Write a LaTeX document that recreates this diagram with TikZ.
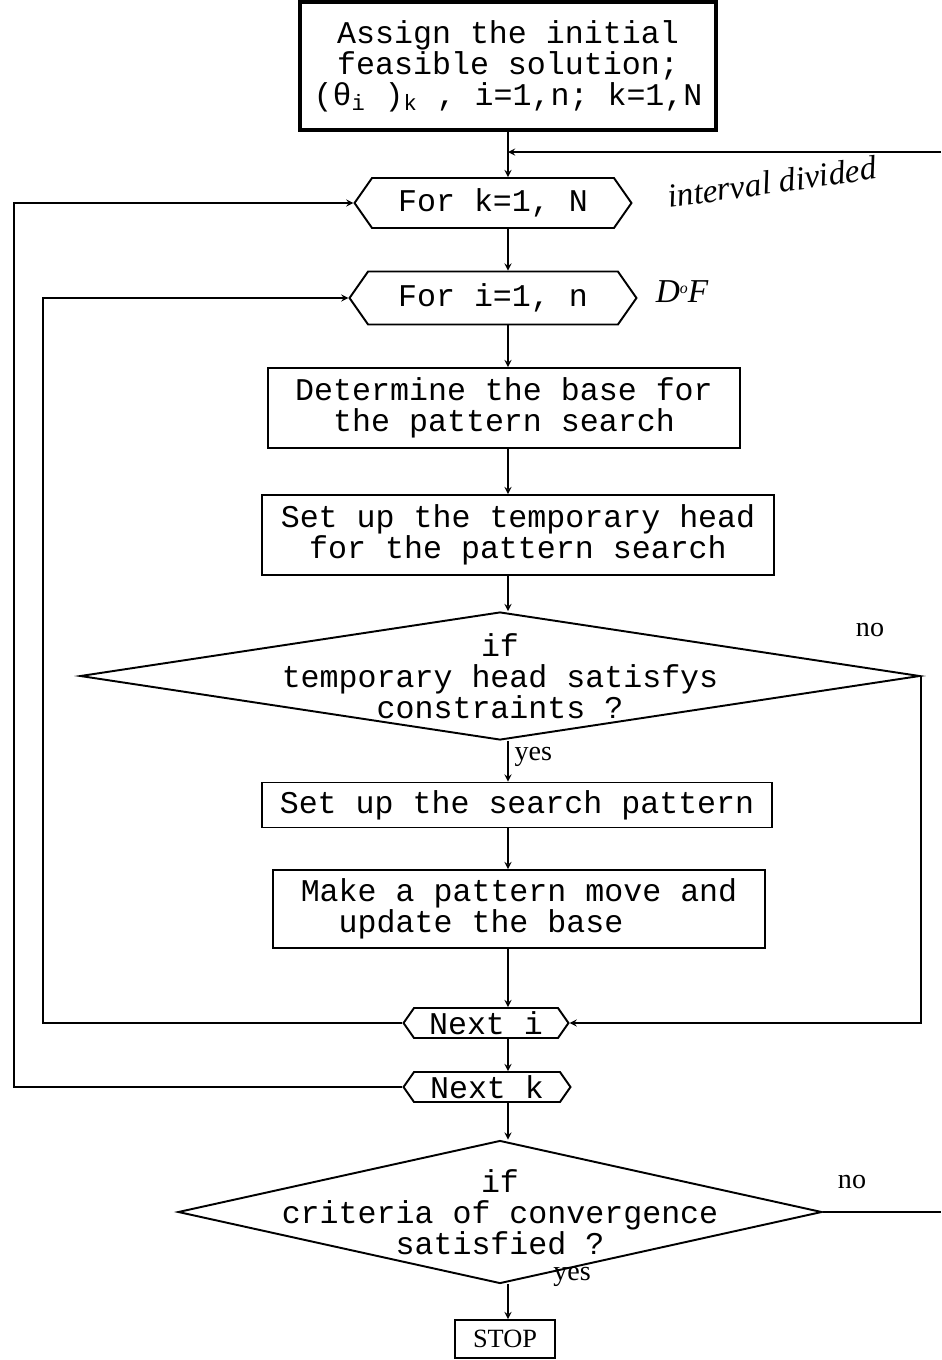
\documentclass[tikz,border=0pt]{standalone}
\usepackage{fontspec}
\setmainfont{Liberation Serif}
\setmonofont{Liberation Mono}
\usetikzlibrary{shapes,arrows,positioning,calc}

\begin{document}
\begin{tikzpicture}[
    x=0.02cm, y=-0.02cm,
    every node/.style={align=center},
    typed/.style={font=\ttfamily\fontsize{18pt}{17.6pt}\selectfont},
    process/.style={rectangle, draw, line width=1.1pt, inner sep=0pt, typed},
    loophead/.style={signal, signal to=west and east, signal pointer angle=110, draw, line width=1.1pt, inner sep=0pt, typed},
    decision/.style={diamond, draw, line width=1.1pt, inner sep=0pt},
    lbl/.style={font=\fontsize{16pt}{18pt}\selectfont},
    note/.style={font=\itshape\fontsize{19pt}{20pt}\selectfont},
    arrow/.style={thick,->,>=stealth},
    line/.style={thick}
]
\useasboundingbox (0,0) rectangle (941,1360);

% guide lines
\coordinate (spine) at (508,0);
\coordinate (iloop) at (43,0);
\coordinate (kloop) at (14,0);
\coordinate (rim) at (941,0);
\coordinate (join) at (508,152);

% Start and the two loops
\node[process, line width=2pt, minimum width=8.32cm, minimum height=2.56cm] (init) at (508,66) {Assign the initial\\feasible solution;\\(θ\textsubscript{i} )\textsubscript{k} , i=1,n; k=1,N};
\node[loophead, minimum width=5.54cm, minimum height=1cm] (fork) at (493,203) {For k=1, N};
\node[loophead, minimum width=5.74cm, minimum height=1.06cm] (fori) at (493,298) {For i=1, n};

% Exploratory step
\node[process, minimum width=9.44cm, minimum height=1.6cm] (base) at (504,408) {Determine the base for\\the pattern search};
\node[process, minimum width=10.26cm, minimum height=1.6cm] (head) at (518,535) {Set up the temporary head\\for the pattern search};
\node[decision, minimum width=16.8cm, minimum height=2.56cm] (check) at (500,676) {};
\node[typed] (checktext) at (check) {if\\temporary head satisfys\\constraints ?};

% Pattern move
\node[process, minimum width=10.2cm, minimum height=0.9cm] (searchp) at (517,805) {Set up the search pattern};
\node[process, align=left, minimum width=9.84cm, minimum height=1.56cm] (move) at (519,909) {Make a pattern move and\\\ \ update the base};

% Loop ends
\node[loophead, minimum width=3.3cm, minimum height=0.6cm] (nexti) at (486,1023) {Next i};
\node[loophead, minimum width=3.34cm, minimum height=0.6cm] (nextk) at (487,1087) {Next k};

% Convergence
\node[decision, minimum width=12.88cm, minimum height=2.86cm] (conv) at (500,1212) {};
\node[typed] (convtext) at (conv) {if\\criteria of convergence\\satisfied ?};
\node[rectangle, draw, line width=1.1pt, inner sep=0pt, minimum width=2cm, minimum height=0.76cm, font=\fontsize{15pt}{17pt}\selectfont] (stop) at (505,1339) {STOP};

% Labels and notes
\node[lbl] (no1) at (870,630) {no};
\node[lbl] (no2) at (852,1182) {no};
\node[lbl] (yes2) at (572,1277) {yes};
\node[note, rotate=8] (intdiv) at (772,182) {interval divided};
\node[note] (dof) at (682,292) {D\raisebox{.6ex}{\small o}F};

% Main line
\draw[arrow] (init.south) -- (fork.north -| spine);
\draw[arrow] (rim |- join) -- (join);
\draw[arrow] (fork.south -| spine) -- (fori.north -| spine);
\draw[arrow] (fori.south -| spine) -- (base.north -| spine);
\draw[arrow] (base.south -| spine) -- (head.north -| spine);
\draw[arrow] (head.south -| spine) -- (check.north -| spine);
\draw[arrow] (check.south -| spine) -- node[lbl, right, pos=0.4] (yes1) {yes} (searchp.north -| spine);
\draw[arrow] (searchp.south -| spine) -- (move.north -| spine);
\draw[arrow] (move.south -| spine) -- (nexti.north -| spine);
\draw[arrow] (nexti.south -| spine) -- (nextk.north -| spine);
\draw[arrow] (nextk.south -| spine) -- (conv.north -| spine);
\draw[arrow] (conv.south -| spine) -- (stop.north -| spine);

% Loops
\draw[arrow] (check.east) |- (nexti.east);
\draw[arrow] (nexti.west) -- (nexti.west -| iloop) |- (fori.west);
\draw[arrow] (nextk.west) -- (nextk.west -| kloop) |- (fork.west);
\draw[line] (conv.east) -- (conv.east -| rim);

\end{tikzpicture}
\end{document}
